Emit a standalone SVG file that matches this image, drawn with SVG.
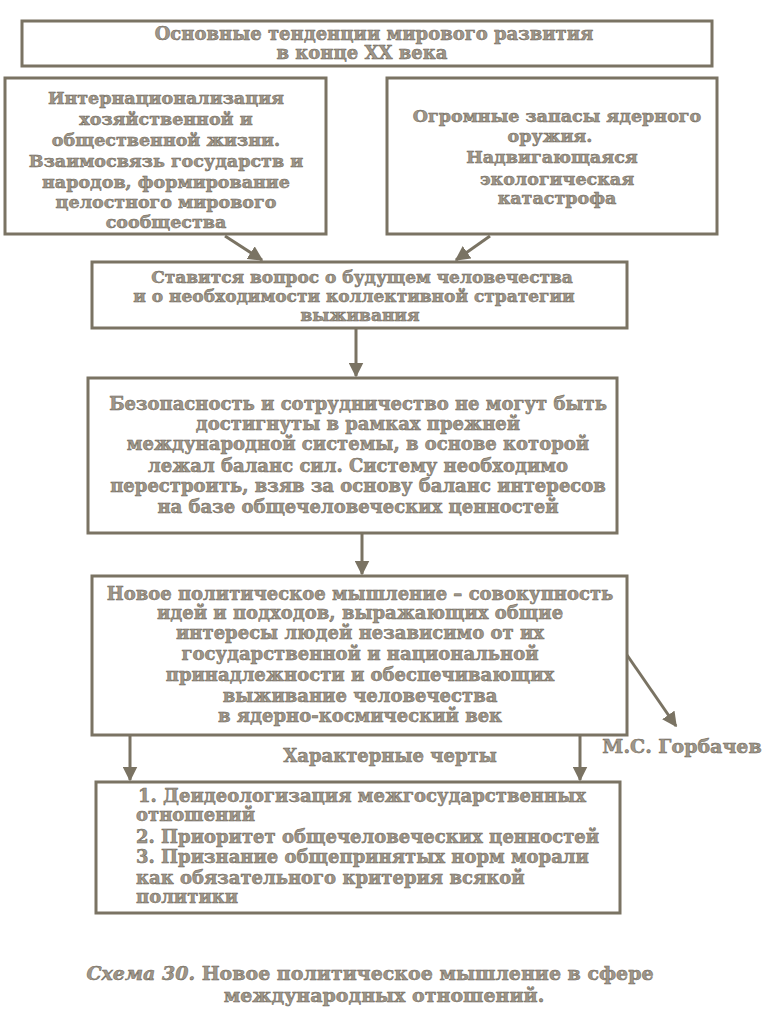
<svg xmlns="http://www.w3.org/2000/svg" width="767" height="1024" viewBox="0 0 767 1024">
<style>
.box{fill:#ffffff;stroke:#7a7363;stroke-width:3}
.t{font-family:"DejaVu Serif","Liberation Serif",serif;font-weight:bold;font-size:18px;fill:#a0978a;stroke:#6a6356;stroke-width:0.5;text-anchor:middle}
.l{text-anchor:start}
.big{font-size:17.5px}
.mid{font-size:17px}
.cap{font-size:19px}
.c{stroke:#7a7363;stroke-width:3;fill:none}
</style>
<defs>
<marker id="ah" viewBox="0 0 10 10" refX="9" refY="5" markerWidth="5" markerHeight="5" orient="auto" markerUnits="strokeWidth">
<path d="M0,0 L10,5 L0,10 z" fill="#7a7363"/>
</marker>
</defs>
<rect width="767" height="1024" fill="#ffffff"/>

<g id="connectors">
<line class="c" x1="225" y1="236" x2="262" y2="260" marker-end="url(#ah)"/>
<line class="c" x1="490" y1="236" x2="456" y2="260" marker-end="url(#ah)"/>
<line class="c" x1="356" y1="329" x2="356" y2="376" marker-end="url(#ah)"/>
<line class="c" x1="362" y1="534" x2="362" y2="574" marker-end="url(#ah)"/>
<line class="c" x1="130" y1="736" x2="130" y2="780" marker-end="url(#ah)"/>
<line class="c" x1="580" y1="736" x2="580" y2="780" marker-end="url(#ah)"/>
<line class="c" x1="627" y1="655" x2="676" y2="726" marker-end="url(#ah)"/>
</g>

<g id="top">
<rect class="box" x="22" y="21" width="690" height="45"/>
<text class="t" x="374" y="40">Основные тенденции мирового развития</text>
<text class="t" x="362" y="59">в конце XX века</text>
</g>

<g id="left">
<rect class="box" x="5" y="78" width="321" height="156"/>
<text class="t big" x="166" y="104">Интернационализация</text>
<text class="t big" x="166" y="125">хозяйственной и</text>
<text class="t big" x="166" y="146">общественной жизни.</text>
<text class="t big" x="166" y="167">Взаимосвязь государств и</text>
<text class="t big" x="166" y="188">народов, формирование</text>
<text class="t big" x="166" y="208">целостного мирового</text>
<text class="t big" x="166" y="228">сообщества</text>
</g>

<g id="right">
<rect class="box" x="387" y="78" width="330" height="156"/>
<text class="t big" x="557" y="122">Огромные запасы ядерного</text>
<text class="t big" x="550" y="142">оружия.</text>
<text class="t big" x="552" y="163">Надвигающаяся</text>
<text class="t big" x="557" y="185">экологическая</text>
<text class="t big" x="557" y="204">катастрофа</text>
</g>

<g id="question">
<rect class="box" x="92" y="262" width="535" height="66"/>
<text class="t mid" x="362" y="283">Ставится вопрос о будущем человечества</text>
<text class="t mid" x="354" y="302">и о необходимости коллективной стратегии</text>
<text class="t mid" x="360" y="321">выживания</text>
</g>

<g id="security">
<rect class="box" x="88" y="378" width="529" height="155"/>
<text class="t" x="358" y="410">Безопасность и сотрудничество не могут быть</text>
<text class="t" x="358" y="430">достигнуты в рамках прежней</text>
<text class="t" x="358" y="450">международной системы, в основе которой</text>
<text class="t" x="358" y="472">лежал баланс сил. Систему необходимо</text>
<text class="t" x="358" y="492">перестроить, взяв за основу баланс интересов</text>
<text class="t" x="358" y="513">на базе общечеловеческих ценностей</text>
</g>

<g id="thinking">
<rect class="box" x="92" y="576" width="535" height="159"/>
<text class="t" x="360" y="600">Новое политическое мышление – совокупность</text>
<text class="t" x="360" y="619">идей и подходов, выражающих общие</text>
<text class="t" x="360" y="639">интересы людей независимо от их</text>
<text class="t" x="360" y="660">государственной и национальной</text>
<text class="t" x="360" y="681">принадлежности и обеспечивающих</text>
<text class="t" x="360" y="702">выживание человечества</text>
<text class="t" x="360" y="722">в ядерно-космический век</text>
</g>

<g id="label-features">
<text class="t" x="390" y="762">Характерные черты</text>
</g>

<g id="gorbachev">
<text class="t cap" x="682" y="753">М.С. Горбачев</text>
</g>

<g id="features">
<rect class="box" x="96" y="782" width="524" height="131"/>
<text class="t l" x="138" y="802">1. Деидеологизация межгосударственных</text>
<text class="t l" x="136" y="821">отношений</text>
<text class="t l" x="136" y="843">2. Приоритет общечеловеческих ценностей</text>
<text class="t l" x="136" y="863">3. Признание общепринятых норм морали</text>
<text class="t l" x="136" y="884">как обязательного критерия всякой</text>
<text class="t l" x="136" y="903">политики</text>
</g>

<g id="caption">
<text class="t cap" x="370" y="980"><tspan font-style="italic">Схема 30.</tspan> Новое политическое мышление в сфере</text>
<text class="t cap" x="384" y="1002">международных отношений.</text>
</g>
</svg>
